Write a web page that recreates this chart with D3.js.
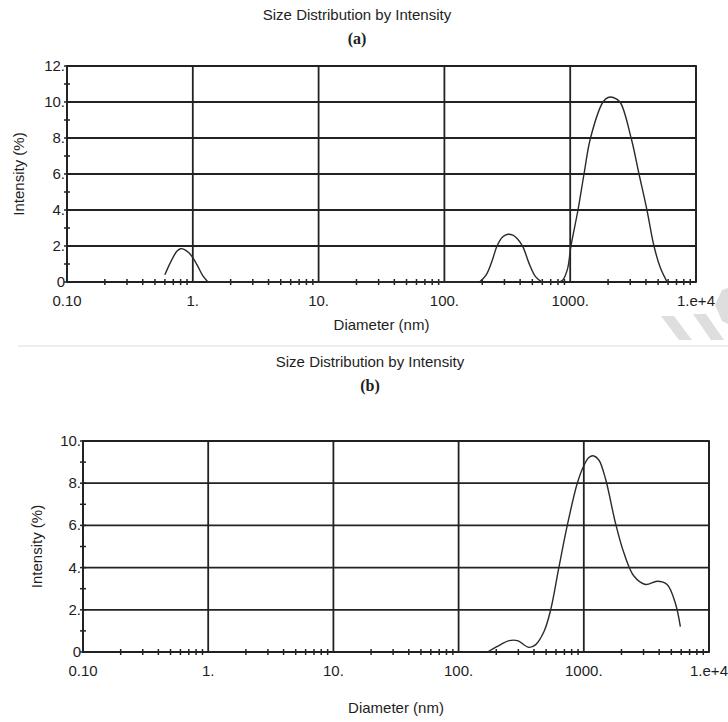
<!DOCTYPE html>
<html>
<head>
<meta charset="utf-8">
<script src="https://cdn.jsdelivr.net/npm/d3@7"></script>
<style>
  body { margin: 0; background: #fff; }
  svg text { font-family: "Liberation Sans", Arial, sans-serif; fill: #1e1e1e; font-size: 15px; }
  .grid line, .frame { stroke: #222; stroke-width: 1.8; }
  .tick-mark { stroke: #222; stroke-width: 1.5; }
  .curve { fill: none; stroke: #2a2a2a; stroke-width: 1.4; }
</style>
</head>
<body>
<script>
// chart text
var chartTitle = "Size Distribution by Intensity";
var xLabel = "Diameter (nm)",
    yLabel = "Intensity (%)";

// x axis: log scale, decades
var xTicks = [0.1, 1, 10, 100, 1000, 10000];
var xTickLabels = ["0.10", "1.", "10.", "100.", "1000.", "1.e+4"];

// y axis ticks for panel (a) and (b)
var yTicksA = [0, 2, 4, 6, 8, 10, 12],
    yTickLabelsA = ["0", "2.", "4.", "6.", "8.", "10.", "12."];
var yTicksB = [0, 2, 4, 6, 8, 10],
    yTickLabelsB = ["0", "2.", "4.", "6.", "8.", "10."];

// panel (a) curve
var sizeA = [0.6, 0.65, 0.7, 0.75, 0.8, 0.86, 0.93, 1.0, 1.1, 1.2, 1.32,
             190, 215, 240, 262, 290, 320, 350, 380, 421, 470, 530, 597,
             800, 870, 950, 1014, 1153, 1288, 1450, 1824, 2000, 2200, 2489, 3050, 3524, 4074, 4634, 5200, 5890];
var intensityA = [0.4, 0.95, 1.4, 1.72, 1.85, 1.8, 1.62, 1.35, 0.85, 0.35, 0,
                  0, 0.4, 1.2, 2.0, 2.5, 2.65, 2.6, 2.4, 1.95, 1.05, 0.3, 0,
                  0, 0.1, 0.7, 2.0, 4.0, 6.0, 8.0, 10.0, 10.25, 10.25, 10.0, 8.0, 6.0, 4.0, 2.0, 0.8, 0];

// panel (b) curve
var sizeB = [170, 217, 253, 295, 365, 413, 481, 544, 632, 738, 887, 1000, 1097, 1188, 1318,
             1492, 1792, 2089, 2512, 3112, 3857, 4627, 5393, 5906];
var intensityB = [0, 0.35, 0.54, 0.54, 0.22, 0.35, 0.97, 2.0, 4.0, 6.0, 8.0, 8.83, 9.22, 9.3, 9.1,
                  8.2, 6.1, 4.7, 3.6, 3.2, 3.35, 3.2, 2.3, 1.2];

var W = 728, H = 722;

var svg = d3.select("body").append("svg")
            .attr("width", W)
            .attr("height", H);

// split a curve where it rests on zero, so the smoothing does not dip under the axis
function splitAtZeros(pts) {
  var segs = [[pts[0]]];
  for (var i = 1; i < pts.length; i++) {
    var prev = pts[i - 1], cur = pts[i];
    if (prev[1] === 0 && cur[1] === 0) {
      segs.push([prev, cur]);   // flat run along the axis
      segs.push([cur]);
    } else {
      segs[segs.length - 1].push(cur);
    }
  }
  return segs.filter(s => s.length > 1);
}

function drawPanel(p) {
  var xScale = d3.scaleLog().domain([0.1, 10000]).range([p.left, p.right]);
  var yScale = d3.scaleLinear().domain([0, p.yMax]).range([p.bottom, p.top]);
  var g = svg.append("g");

  // titles
  g.append("text")
   .attr("x", p.titleX).attr("y", p.titleY)
   .attr("text-anchor", "middle")
   .text(chartTitle);
  g.append("text")
   .attr("x", p.titleX).attr("y", p.titleY + 24)
   .attr("text-anchor", "middle")
   .style("font-family", "'Liberation Serif', 'Times New Roman', serif")
   .style("font-weight", "bold")
   .style("font-size", "16px")
   .text(p.tag);

  // gridlines
  var grid = g.append("g").attr("class", "grid");
  grid.selectAll(".h")
      .data(p.yTicks)
      .enter().append("line")
      .attr("x1", p.left).attr("x2", p.right)
      .attr("y1", d => yScale(d)).attr("y2", d => yScale(d));
  grid.selectAll(".v")
      .data(xTicks)
      .enter().append("line")
      .attr("x1", d => xScale(d)).attr("x2", d => xScale(d))
      .attr("y1", p.top).attr("y2", p.bottom);

  // minor ticks on x axis (2..9 in each decade)
  var minorX = [];
  xTicks.slice(0, -1).forEach(d => {
    for (var k = 2; k <= 9; k++) minorX.push(d * k);
  });
  g.selectAll(".mx")
   .data(minorX)
   .enter().append("line")
   .attr("class", "tick-mark")
   .attr("x1", d => xScale(d)).attr("x2", d => xScale(d))
   .attr("y1", p.bottom - 3).attr("y2", p.bottom + 3);

  // minor ticks on y axis (every unit)
  g.selectAll(".my")
   .data(d3.range(0, p.yMax + 1))
   .enter().append("line")
   .attr("class", "tick-mark")
   .attr("x1", p.left - 3).attr("x2", p.left + 3)
   .attr("y1", d => yScale(d)).attr("y2", d => yScale(d));

  // tick labels
  g.selectAll(".xl")
   .data(xTicks)
   .enter().append("text")
   .attr("x", d => xScale(d))
   .attr("y", p.bottom + 24)
   .attr("text-anchor", "middle")
   .text((d, i) => xTickLabels[i]);
  g.selectAll(".yl")
   .data(p.yTicks)
   .enter().append("text")
   .attr("x", p.left - 2)
   .attr("y", d => yScale(d) + 5)
   .attr("text-anchor", "end")
   .text((d, i) => p.yTickLabels[i]);

  // axis titles
  g.append("text")
   .attr("x", (p.left + p.right) / 2)
   .attr("y", p.bottom + p.xLabelGap)
   .attr("text-anchor", "middle")
   .text(xLabel);
  g.append("text")
   .attr("transform", "translate(" + p.yLabelX + "," + (p.top + p.bottom) / 2 + ") rotate(-90)")
   .attr("text-anchor", "middle")
   .text(yLabel);

  // frame
  g.append("rect")
   .attr("class", "frame")
   .attr("x", p.left).attr("y", p.top)
   .attr("width", p.right - p.left).attr("height", p.bottom - p.top)
   .attr("fill", "none");

  // the curve
  var line = d3.line()
               .x(d => xScale(d[0]))
               .y(d => yScale(d[1]))
               .curve(d3.curveCatmullRom.alpha(0.5));
  g.selectAll(".curve")
   .data(splitAtZeros(d3.zip(p.sizes, p.values)))
   .enter().append("path")
   .attr("class", "curve")
   .attr("d", d => line(d));
}

drawPanel({
  left: 67, right: 696, top: 66, bottom: 282, yMax: 12,
  yTicks: yTicksA, yTickLabels: yTickLabelsA,
  titleX: 357, titleY: 20, tag: "(a)",
  xLabelGap: 48, yLabelX: 24,
  sizes: sizeA, values: intensityA
});

drawPanel({
  left: 83, right: 709, top: 441, bottom: 652, yMax: 10,
  yTicks: yTicksB, yTickLabels: yTickLabelsB,
  titleX: 370, titleY: 367, tag: "(b)",
  xLabelGap: 61, yLabelX: 42,
  sizes: sizeB, values: intensityB
});

// separator between the two panels
svg.append("line")
   .attr("x1", 18).attr("x2", W)
   .attr("y1", 346).attr("y2", 346)
   .attr("stroke", "#dcdcdc").attr("stroke-width", 1.2);

// faint watermark fragments at the right edge
var marks = svg.append("g").attr("fill", "#dedede");
marks.append("path").attr("d", "M661,316 L674,316 L692,340 L679,340 Z");
marks.append("path").attr("d", "M693,314 L706,314 L724,340 L711,340 Z");
marks.append("path").attr("d", "M728,288 L722,290 L715,305 L722,321 L728,324 Z");
</script>
</body>
</html>
